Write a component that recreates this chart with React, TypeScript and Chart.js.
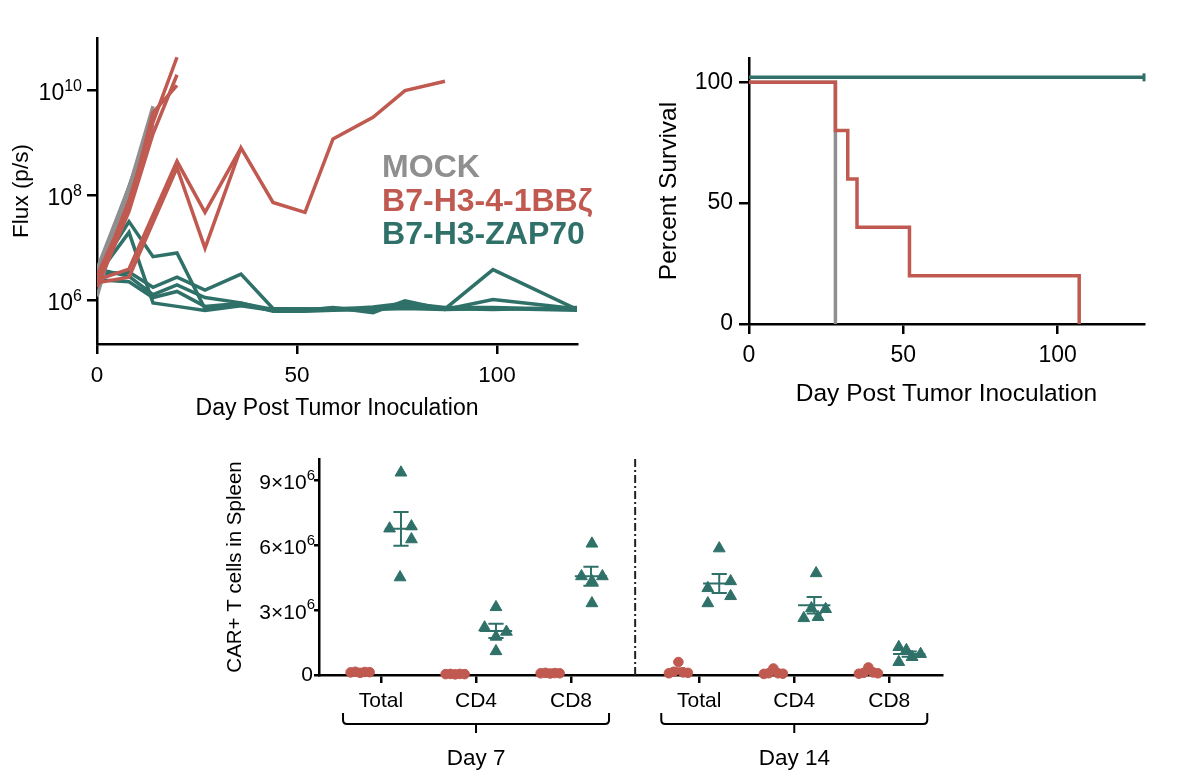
import React, { useEffect, useRef } from 'react';
import { Chart, registerables } from 'chart.js';

Chart.register(...registerables);

const FONT = '"Liberation Sans", Arial, Helvetica, sans-serif';
const RED = '#c05a50';
const TEAL = '#2f7169';
const GREY = '#8f8f8f';
const INK = '#000000';

// ---------- Panel A: tumour flux ----------
const FLUX_TICKS = [1e6, 1e8, 1e10];
const DAY_TICKS = [0, 50, 100];
const LEGEND_LABELS = ['MOCK', 'B7-H3-4-1BBζ', 'B7-H3-ZAP70'];

const MOCK_FLUX_DAYS = [0, 14];
const MOCK_FLUX = [
  [1.2e6, 5.0e9],
  [2.0e6, 3.5e9],
  [3.0e6, 2.8e9],
  [4.0e6, 2.2e9],
  [2.5e6, 1.8e9],
];

const BBZ_FLUX_DAYS = [
  [0, 8, 14, 20],
  [0, 8, 14, 20],
  [0, 8, 14, 20],
  [0, 8, 20, 27, 36],
  [0, 8, 20, 27, 36, 44, 52, 59, 69, 77, 87],
];
const BBZ_FLUX = [
  [2.2e6, 8.0e7, 2.5e9, 4.3e10],
  [1.8e6, 5.0e7, 1.5e9, 2.0e10],
  [3.0e6, 6.0e7, 3.8e9, 1.25e10],
  [2.5e6, 4.0e6, 4.5e8, 4.8e7, 8.1e8],
  [2.2e6, 2.8e6, 3.4e8, 1.0e7, 8.1e8, 7.4e7, 4.8e7, 1.2e9, 3.1e9, 1.0e10, 1.5e10],
];

const ZAP_FLUX_DAYS = [0, 8, 14, 20, 27, 36, 44, 52, 59, 69, 77, 87, 99, 120];
const ZAP_FLUX = [
  [3.5e6, 3.2e7, 6.9e6, 8.1e6, 7.0e5, 8.5e5, 6.6e5, 6.8e5, 7.2e5, 7.0e5, 8.0e5, 7.0e5, 3.9e6, 6.8e5],
  [3.0e6, 2.0e7, 9.1e5, 7.8e5, 6.5e5, 8.0e5, 6.5e5, 6.6e5, 7.4e5, 5.9e5, 1.0e6, 6.8e5, 1.05e6, 7.0e5],
  [3.2e6, 3.5e6, 1.8e6, 2.8e6, 1.6e6, 3.2e6, 7.1e5, 7.0e5, 6.8e5, 7.6e5, 8.9e5, 7.4e5, 7.4e5, 6.8e5],
  [4.0e6, 2.9e6, 1.3e6, 2.0e6, 1.15e6, 9.1e5, 6.3e5, 6.3e5, 6.6e5, 6.8e5, 7.1e5, 6.8e5, 7.1e5, 6.6e5],
  [2.5e6, 2.3e6, 1.15e6, 1.5e6, 7.8e5, 8.9e5, 6.8e5, 6.8e5, 7.0e5, 7.1e5, 7.9e5, 7.1e5, 6.8e5, 7.4e5],
];

// ---------- Panel B: survival ----------
const SURV_TICKS = [0, 50, 100];
const MOCK_SURV_DAYS = [0, 28];
const MOCK_SURV_PCT = [100, 0];
const BBZ_SURV_DAYS = [0, 28, 32, 35, 52, 107];
const BBZ_SURV_PCT = [100, 80, 60, 40, 20, 0];
const ZAP_SURV_DAYS = [0, 128];
const ZAP_SURV_PCT = [102, 102];

// ---------- Panel C: CAR+ T cells in spleen ----------
const CELL_GROUPS = ['Total', 'CD4', 'CD8', 'Total', 'CD4', 'CD8'];
const CELL_GROUP_POS = [1, 2, 3, 4.35, 5.35, 6.35];
const CELL_DAYS = ['Day 7', 'Day 14'];
const CELL_DAY_GROUPS = [[0, 1, 2], [3, 4, 5]];
const CELL_TICKS = [0, 3e6, 6e6, 9e6];
const BBZ_CELLS = [
  [1.2e5, 1.5e5, 1.0e5, 1.4e5, 1.3e5],
  [4e4, 5e4, 3e4, 5e4, 4e4],
  [8e4, 1.0e5, 7e4, 9e4, 8e4],
  [8e4, 1.5e5, 6.0e5, 1.2e5, 1.0e5],
  [5e4, 8e4, 3.0e5, 8e4, 6e4],
  [6e4, 1.0e5, 3.5e5, 1.2e5, 8e4],
];
const ZAP_CELLS = [
  [9.37e6, 6.78e6, 6.88e6, 6.28e6, 4.52e6],
  [3.14e6, 2.2e6, 2.0e6, 1.77e6, 1.1e6],
  [6.08e6, 4.57e6, 4.57e6, 4.34e6, 3.32e6],
  [5.86e6, 4.34e6, 4.02e6, 3.65e6, 3.32e6],
  [4.71e6, 3.09e6, 3.05e6, 2.68e6, 2.63e6],
  [1.29e6, 1.15e6, 0.97e6, 0.83e6, 0.6e6],
];
// horizontal scatter (jitter) of the points inside a group, in axis units
const BBZ_JITTER = [-0.32, -0.27, -0.22, -0.17, -0.12];
const ZAP_JITTER = [
  [0.21, 0.09, 0.32, 0.32, 0.2],
  [0.21, 0.09, 0.32, 0.21, 0.21],
  [0.22, 0.11, 0.33, 0.22, 0.22],
  [0.21, 0.33, 0.09, 0.33, 0.09],
  [0.23, 0.18, 0.33, 0.25, 0.1],
  [0.1, 0.18, 0.33, 0.24, 0.1],
];
const DIVIDER_POS = 3.675;

const mean = (a: number[]) => a.reduce((s, v) => s + v, 0) / a.length;
const sem = (a: number[]) => {
  const m = mean(a);
  const sd = Math.sqrt(a.reduce((s, v) => s + (v - m) * (v - m), 0) / (a.length - 1));
  return sd / Math.sqrt(a.length);
};

const axisStyle = (tickLength: number) => ({
  border: { display: true, color: INK, width: 2.5 },
  grid: { drawOnChartArea: false, drawTicks: true, tickLength, color: INK, lineWidth: 2.5 },
});

function lineSet(days: number[], vals: number[], color: string, width = 3.5) {
  return {
    data: days.map((d, i) => ({ x: d, y: vals[i] })),
    borderColor: color,
    backgroundColor: color,
    borderWidth: width,
    pointRadius: 0,
    showLine: true,
    tension: 0,
    fill: false,
    borderJoinStyle: 'miter',
  };
}

export default function App() {
  const fluxRef = useRef<HTMLCanvasElement>(null);
  const survRef = useRef<HTMLCanvasElement>(null);
  const cellRef = useRef<HTMLCanvasElement>(null);

  useEffect(() => {
    const charts: Chart[] = [];

    // ---------------- Panel A ----------------
    const fluxPlugin = {
      id: 'fluxDecor',
      afterDraw(chart: any) {
        const { ctx, chartArea } = chart;
        const ys = chart.scales.y;
        ctx.save();
        ctx.fillStyle = INK;
        FLUX_TICKS.forEach((v) => {
          const py = ys.getPixelForValue(v);
          const exp = String(Math.round(Math.log10(v)));
          ctx.font = `16px ${FONT}`;
          const ew = ctx.measureText(exp).width;
          ctx.textAlign = 'right';
          ctx.textBaseline = 'middle';
          ctx.fillText(exp, chartArea.left - 15, py - 4);
          ctx.font = `23px ${FONT}`;
          ctx.fillText('10', chartArea.left - 15 - ew, py + 3);
        });
        const colors = [GREY, RED, TEAL];
        const lx = chartArea.left + (chartArea.right - chartArea.left) * 0.594;
        ctx.font = `bold 32px ${FONT}`;
        ctx.textAlign = 'left';
        ctx.textBaseline = 'alphabetic';
        LEGEND_LABELS.forEach((t, i) => {
          ctx.fillStyle = colors[i];
          ctx.fillText(t, lx, chartArea.top + 139 + i * 33.5);
        });
        ctx.restore();
      },
    };

    const fluxSets = [
      ...BBZ_FLUX.map((v, i) => lineSet(BBZ_FLUX_DAYS[i], v, RED)),
      ...MOCK_FLUX.map((v) => lineSet(MOCK_FLUX_DAYS, v, GREY)),
      ...ZAP_FLUX.map((v) => lineSet(ZAP_FLUX_DAYS, v, TEAL)),
    ];

    charts.push(
      new Chart(fluxRef.current!, {
        type: 'scatter',
        data: { datasets: fluxSets as any },
        options: {
          responsive: false,
          animation: false,
          events: [],
          layout: { padding: { left: 0, top: 38, right: 23, bottom: 0 } },
          plugins: { legend: { display: false }, tooltip: { enabled: false } },
          scales: {
            x: {
              type: 'linear',
              min: 0,
              max: 120,
              afterBuildTicks: (s: any) => { s.ticks = DAY_TICKS.map((value) => ({ value })); },
              afterFit: (s: any) => { s.height = 86; },
              ...axisStyle(10),
              ticks: { color: INK, font: { family: FONT, size: 22.5 }, padding: 8, maxRotation: 0 },
              title: { display: true, text: 'Day Post Tumor Inoculation', color: INK, font: { family: FONT, size: 23 }, padding: { top: 0, bottom: 8 } },
            },
            y: {
              type: 'logarithmic',
              min: 1.5e5,
              max: 1e11,
              afterBuildTicks: (s: any) => { s.ticks = FLUX_TICKS.map((value) => ({ value })); },
              afterFit: (s: any) => { s.width = 97; },
              ...axisStyle(10),
              ticks: { display: false },
              title: { display: true, text: 'Flux (p/s)', color: INK, font: { family: FONT, size: 22.5 }, padding: { top: 8, bottom: 0 } },
            },
          },
        } as any,
        plugins: [fluxPlugin],
      })
    );

    // ---------------- Panel B ----------------
    const zapSurv = lineSet(ZAP_SURV_DAYS, ZAP_SURV_PCT, TEAL, 3.5) as any;
    zapSurv.pointStyle = 'line';
    zapSurv.rotation = 90;
    zapSurv.pointRadius = ZAP_SURV_DAYS.map((_, i) => (i === ZAP_SURV_DAYS.length - 1 ? 4 : 0));
    zapSurv.pointBorderWidth = 3;
    const survSets = [
      { ...lineSet(BBZ_SURV_DAYS, BBZ_SURV_PCT, RED, 3.5), stepped: 'before', clip: false },
      { ...lineSet(MOCK_SURV_DAYS, MOCK_SURV_PCT, GREY, 3.5), stepped: 'before', clip: false },
      { ...zapSurv, stepped: 'before', clip: false },
    ];

    charts.push(
      new Chart(survRef.current!, {
        type: 'scatter',
        data: { datasets: survSets as any },
        options: {
          responsive: false,
          animation: false,
          events: [],
          layout: { padding: { left: 0, top: 58, right: 56, bottom: 0 } },
          plugins: { legend: { display: false }, tooltip: { enabled: false } },
          scales: {
            x: {
              type: 'linear',
              min: 0,
              max: 128,
              afterBuildTicks: (s: any) => { s.ticks = DAY_TICKS.map((value) => ({ value })); },
              afterFit: (s: any) => { s.height = 106; },
              ...axisStyle(10),
              ticks: { color: INK, font: { family: FONT, size: 23 }, padding: 8, maxRotation: 0 },
              title: { display: true, text: 'Day Post Tumor Inoculation', color: INK, font: { family: FONT, size: 24.5 }, padding: { top: 0, bottom: 21 } },
            },
            y: {
              type: 'linear',
              min: 0,
              max: 110,
              afterBuildTicks: (s: any) => { s.ticks = SURV_TICKS.map((value) => ({ value })); },
              afterFit: (s: any) => { s.width = 149; },
              ...axisStyle(10),
              ticks: { color: INK, font: { family: FONT, size: 23 }, padding: 6 },
              title: { display: true, text: 'Percent Survival', color: INK, font: { family: FONT, size: 24.5 }, padding: { top: 55, bottom: 0 } },
            },
          },
        } as any,
      })
    );

    // ---------------- Panel C ----------------
    const bbzPoints: any[] = [];
    const zapPoints: any[] = [];
    CELL_GROUP_POS.forEach((p, g) => {
      BBZ_CELLS[g].forEach((v, i) => bbzPoints.push({ x: p + BBZ_JITTER[i], y: v }));
      ZAP_CELLS[g].forEach((v, i) => zapPoints.push({ x: p + ZAP_JITTER[g][i], y: v }));
    });

    const cellPlugin = {
      id: 'cellDecor',
      afterDatasetsDraw(chart: any) {
        const { ctx } = chart;
        const xs = chart.scales.x;
        const ys = chart.scales.y;
        const px = (v: number) => xs.getPixelForValue(v);
        const py = (v: number) => ys.getPixelForValue(v);
        ctx.save();
        ctx.lineWidth = 2;
        const drawBar = (vals: number[], cx: number, half: number, cap: number, color: string) => {
          const m = mean(vals);
          const s = sem(vals);
          ctx.strokeStyle = color;
          ctx.beginPath();
          ctx.moveTo(px(cx - half), py(m));
          ctx.lineTo(px(cx + half), py(m));
          ctx.moveTo(px(cx), py(m - s));
          ctx.lineTo(px(cx), py(m + s));
          ctx.moveTo(px(cx - cap), py(m + s));
          ctx.lineTo(px(cx + cap), py(m + s));
          ctx.moveTo(px(cx - cap), py(m - s));
          ctx.lineTo(px(cx + cap), py(m - s));
          ctx.stroke();
        };
        CELL_GROUP_POS.forEach((p, g) => {
          drawBar(BBZ_CELLS[g], p - 0.22, 0.14, 0.07, RED);
          drawBar(ZAP_CELLS[g], p + 0.21, 0.17, 0.08, TEAL);
        });
        ctx.restore();
      },
      afterDraw(chart: any) {
        const { ctx, chartArea } = chart;
        const xs = chart.scales.x;
        const ys = chart.scales.y;
        ctx.save();
        // divider
        ctx.strokeStyle = '#222';
        ctx.lineWidth = 2;
        ctx.setLineDash([8, 3, 2, 3]);
        const dx = xs.getPixelForValue(DIVIDER_POS);
        ctx.beginPath();
        ctx.moveTo(dx, chartArea.top);
        ctx.lineTo(dx, chartArea.bottom);
        ctx.stroke();
        ctx.setLineDash([]);
        // y tick labels
        ctx.fillStyle = INK;
        ctx.textAlign = 'right';
        ctx.textBaseline = 'middle';
        CELL_TICKS.forEach((v) => {
          const y = ys.getPixelForValue(v);
          if (v === 0) {
            ctx.font = `21px ${FONT}`;
            ctx.fillText('0', chartArea.left - 6, y);
            return;
          }
          ctx.font = `15px ${FONT}`;
          const ew = ctx.measureText('6').width;
          ctx.fillText('6', chartArea.left - 4, y - 5);
          ctx.font = `21px ${FONT}`;
          ctx.fillText(`${v / 1e6}×10`, chartArea.left - 4 - ew, y + 3);
        });
        // braces + day labels
        ctx.strokeStyle = INK;
        ctx.lineWidth = 2;
        const by = chartArea.bottom + 49;
        CELL_DAY_GROUPS.forEach((grp, d) => {
          const l = xs.getPixelForValue(CELL_GROUP_POS[grp[0]] - 0.4);
          const r = xs.getPixelForValue(CELL_GROUP_POS[grp[grp.length - 1]] + 0.4);
          const c = (l + r) / 2;
          const rad = 4;
          ctx.beginPath();
          ctx.moveTo(l, by - 11);
          ctx.lineTo(l, by - rad);
          ctx.quadraticCurveTo(l, by, l + rad, by);
          ctx.lineTo(r - rad, by);
          ctx.quadraticCurveTo(r, by, r, by - rad);
          ctx.lineTo(r, by - 11);
          ctx.moveTo(c, by);
          ctx.lineTo(c, by + 9);
          ctx.stroke();
          ctx.font = `22.5px ${FONT}`;
          ctx.textAlign = 'center';
          ctx.textBaseline = 'middle';
          ctx.fillText(CELL_DAYS[d], c, chartArea.bottom + 84);
        });
        ctx.restore();
      },
    };

    charts.push(
      new Chart(cellRef.current!, {
        type: 'scatter',
        data: {
          datasets: [
            { data: bbzPoints, pointStyle: 'circle', pointRadius: 4.8, backgroundColor: RED, borderColor: RED, borderWidth: 1, clip: false },
            { data: zapPoints, pointStyle: 'triangle', pointRadius: 6.8, backgroundColor: TEAL, borderColor: TEAL, borderWidth: 1, clip: false },
          ] as any,
        },
        options: {
          responsive: false,
          animation: false,
          events: [],
          layout: { padding: { left: 0, top: 19, right: 18, bottom: 0 } },
          plugins: { legend: { display: false }, tooltip: { enabled: false } },
          scales: {
            x: {
              type: 'linear',
              min: 0.347,
              max: 6.905,
              afterBuildTicks: (s: any) => { s.ticks = CELL_GROUP_POS.map((value) => ({ value })); },
              afterFit: (s: any) => { s.height = 102; },
              ...axisStyle(8),
              ticks: { color: INK, font: { family: FONT, size: 21 }, padding: 6, maxRotation: 0, autoSkip: false, callback: (_v: any, i: number) => CELL_GROUPS[i] },
            },
            y: {
              type: 'linear',
              min: 0,
              max: 1e7,
              afterBuildTicks: (s: any) => { s.ticks = CELL_TICKS.map((value) => ({ value })); },
              afterFit: (s: any) => { s.width = 119; },
              ...axisStyle(5),
              ticks: { display: false },
              title: { display: true, text: 'CAR+ T cells in Spleen', color: INK, font: { family: FONT, size: 20.5 }, padding: { top: 23, bottom: 0 } },
            },
          },
        } as any,
        plugins: [cellPlugin],
      })
    );

    return () => charts.forEach((c) => c.destroy());
  }, []);

  return (
    <div style={{ position: 'absolute', left: 0, top: 0, width: 1200, height: 777, background: '#fff', overflow: 'hidden' }}>
      <canvas ref={fluxRef} width={600} height={430} style={{ position: 'absolute', left: 0, top: 0 }} />
      <canvas ref={survRef} width={600} height={430} style={{ position: 'absolute', left: 600, top: 0 }} />
      <canvas ref={cellRef} width={760} height={337} style={{ position: 'absolute', left: 200, top: 440 }} />
    </div>
  );
}
